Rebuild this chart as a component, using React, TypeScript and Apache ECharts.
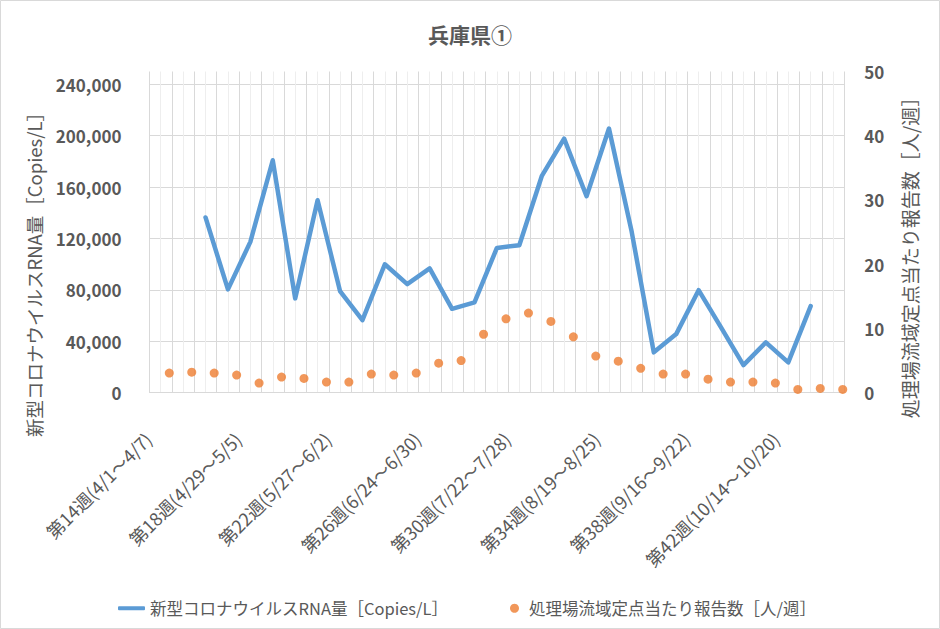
import React, { useEffect, useRef } from "react";
import * as echarts from "echarts";

const titleText = "兵庫県①";
const lineName = "新型コロナウイルスRNA量［Copies/L］";
const dotName = "処理場流域定点当たり報告数［人/週］";

const weeks = [
  "第14週(4/1～4/7)", "第15週(4/8～4/14)", "第16週(4/15～4/21)", "第17週(4/22～4/28)",
  "第18週(4/29～5/5)", "第19週(5/6～5/12)", "第20週(5/13～5/19)", "第21週(5/20～5/26)",
  "第22週(5/27～6/2)", "第23週(6/3～6/9)", "第24週(6/10～6/16)", "第25週(6/17～6/23)",
  "第26週(6/24～6/30)", "第27週(7/1～7/7)", "第28週(7/8～7/14)", "第29週(7/15～7/21)",
  "第30週(7/22～7/28)", "第31週(7/29～8/4)", "第32週(8/5～8/11)", "第33週(8/12～8/18)",
  "第34週(8/19～8/25)", "第35週(8/26～9/1)", "第36週(9/2～9/8)", "第37週(9/9～9/15)",
  "第38週(9/16～9/22)", "第39週(9/23～9/29)", "第40週(9/30～10/6)", "第41週(10/7～10/13)",
  "第42週(10/14～10/20)", "第43週(10/21～10/27)", "第44週(10/28～11/3)",
];

const rnaValues: (number | null)[] = [
  null, null, 136400, 80400, 117400, 180900, 73400, 149800, 79100, 56500,
  100000, 84500, 96700, 65300, 70300, 112700, 114800, 168500, 197800, 152900,
  205600, 126500, 31400, 45600, 79800, 50800, 21500, 39200, 23600, 67400, null,
];

const reportValues = [
  3.06, 3.2, 3.06, 2.75, 1.5, 2.44, 2.22, 1.66, 1.66, 2.9,
  2.75, 3.06, 4.6, 5.0, 9.1, 11.5, 12.4, 11.1, 8.7, 5.7,
  4.9, 3.8, 2.9, 2.9, 2.1, 1.66, 1.66, 1.5, 0.51, 0.67, 0.51,
];

const FONT = "'Noto Sans CJK JP', 'Noto Sans', sans-serif";
const TXT = "#595959";

export default function App() {
  const ref = useRef<HTMLDivElement>(null);
  useEffect(() => {
    document.body.style.margin = "0";
    if (!ref.current) return;
    const chart = echarts.init(ref.current, undefined, { renderer: "svg" });
    chart.setOption({
      animation: false,
      backgroundColor: "#ffffff",
      textStyle: { fontFamily: FONT },
      title: {
        text: titleText,
        left: "center",
        top: 18,
        textStyle: { fontFamily: FONT, fontSize: 21, color: TXT, fontWeight: "bold" },
      },
      graphic: [
        {
          type: "rect",
          shape: { x: 0.5, y: 0.5, width: 939, height: 628 },
          style: { fill: "none", stroke: "#d9d9d9", lineWidth: 1 },
          silent: true,
        },
        {
          type: "text",
          x: 33.5,
          y: 270,
          rotation: Math.PI / 2,
          silent: true,
          style: {
            text: lineName,
            fontFamily: FONT,
            fontSize: 18.5,
            fill: TXT,
            align: "center",
            verticalAlign: "middle",
          },
        },
        {
          type: "text",
          x: 909,
          y: 253,
          rotation: Math.PI / 2,
          silent: true,
          style: {
            text: dotName,
            fontFamily: FONT,
            fontSize: 19,
            fill: TXT,
            align: "center",
            verticalAlign: "middle",
          },
        },
      ],
      legend: [
        {
          data: [{ name: lineName, icon: "roundRect" }],
          left: 113,
          top: 595,
          itemWidth: 27,
          itemHeight: 4,
          textStyle: { fontFamily: FONT, fontSize: 16.5, color: TXT },
        },
        {
          data: [{ name: dotName, icon: "circle" }],
          left: 505,
          top: 595,
          itemWidth: 9,
          itemHeight: 9,
          textStyle: { fontFamily: FONT, fontSize: 16.5, color: TXT, padding: [0, 0, 0, 5] },
        },
      ],
      grid: { left: 149.5, right: 95.7, top: 71.5, bottom: 236.3, containLabel: false },
      xAxis: [
        {
          type: "category",
          data: weeks,
          boundaryGap: true,
          axisLine: { show: true, lineStyle: { color: "#d9d9d9", width: 1 } },
          axisTick: { show: false },
          axisLabel: {
            interval: 3,
            rotate: 45,
            margin: 30,
            padding: [0, 18, 0, 0],
            color: TXT,
            fontSize: 18,
            fontFamily: FONT,
          },
          splitLine: { show: true, interval: 0, lineStyle: { color: "#d9d9d9", width: 1 } },
        },
        {
          type: "value",
          min: -0.882,
          max: 30.07,
          show: false,
          splitLine: { show: false },
        },
        {
          type: "value",
          min: -0.5,
          max: 30.5,
          minInterval: 1,
          maxInterval: 1,
          axisLine: { show: false },
          axisTick: { show: false },
          axisLabel: { show: false },
          splitLine: {
            show: true,
            showMinLine: false,
            showMaxLine: false,
            lineStyle: { color: "#eeeeee", width: 1 },
          },
        },
      ],
      yAxis: [
        {
          type: "value",
          min: 0,
          max: 250000,
          interval: 40000,
          axisLine: { show: false },
          axisTick: { show: false },
          axisLabel: {
            color: TXT,
            fontSize: 17,
            fontWeight: "bold",
            fontFamily: FONT,
            margin: 28,
            showMaxLabel: false,
            formatter: (v: number) => (v > 240000 ? "" : v.toLocaleString("en-US")),
          },
          splitLine: { show: true, showMaxLine: false, lineStyle: { color: "#d9d9d9", width: 1 } },
        },
        {
          type: "value",
          min: 0,
          max: 50,
          interval: 10,
          position: "right",
          axisLine: { show: false },
          axisTick: { show: false },
          axisLabel: { color: TXT, fontSize: 17, fontWeight: "bold", fontFamily: FONT, margin: 20 },
          splitLine: { show: false },
        },
      ],
      series: [
        {
          name: lineName,
          type: "line",
          xAxisIndex: 0,
          yAxisIndex: 0,
          data: rnaValues,
          symbol: "none",
          connectNulls: false,
          lineStyle: { color: "#5B9BD5", width: 4.5, cap: "round", join: "round" },
          itemStyle: { color: "#5B9BD5" },
          z: 3,
        },
        {
          name: dotName,
          type: "scatter",
          xAxisIndex: 1,
          yAxisIndex: 1,
          data: reportValues.map((v, i) => [i, v]),
          symbol: "circle",
          symbolSize: 9,
          itemStyle: { color: "#ED7D31" },
          z: 4,
        },
      ],
    });
    return () => chart.dispose();
  }, []);
  return (
    <div
      ref={ref}
      style={{ position: "absolute", left: 0, top: 0, width: 940, height: 629 }}
    />
  );
}
